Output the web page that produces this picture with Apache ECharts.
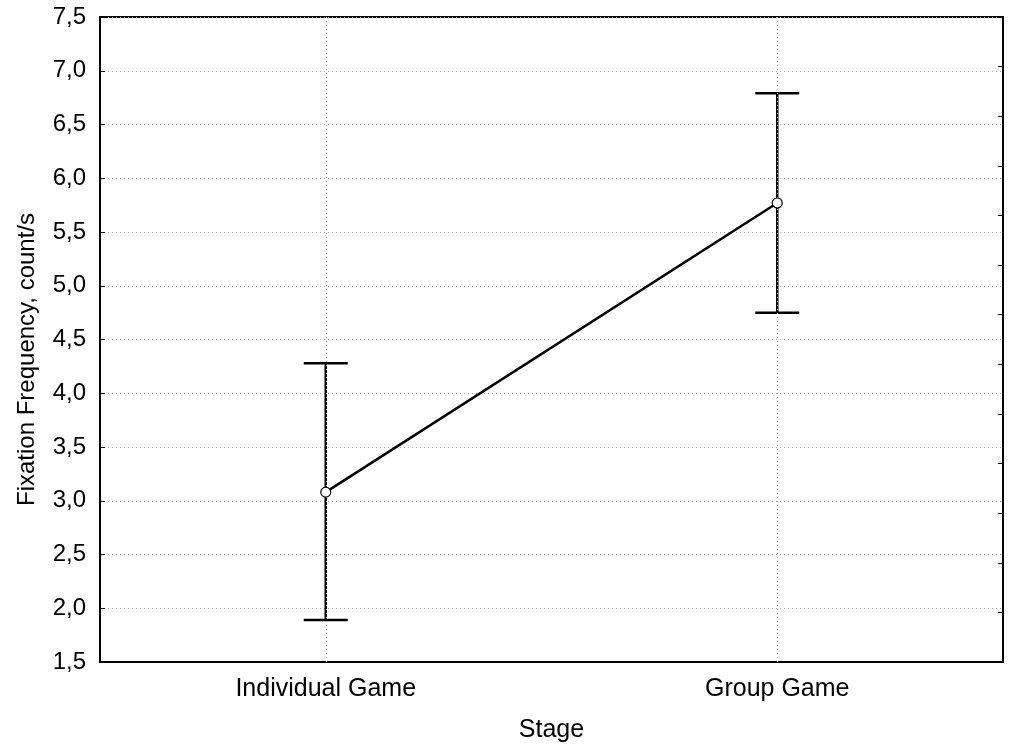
<!DOCTYPE html>
<html>
<head>
<meta charset="utf-8">
<script src="https://cdn.jsdelivr.net/npm/echarts@6/dist/echarts.min.js"></script>
<style>
  html, body { margin: 0; padding: 0; background: #fff; }
  #chart { width: 1011px; height: 748px; }
</style>
</head>
<body>
<div id="chart"></div>
<script>
// data
const stages = ["Individual Game", "Group Game"];
const means = [3.08, 5.77];
const lowerCI = [1.89, 4.75];
const upperCI = [4.28, 6.79];

const font = "Liberation Sans, Arial, sans-serif";
const fmt = v => v.toFixed(1).replace(".", ",");

const chart = echarts.init(document.getElementById("chart"));

const errData = stages.map((s, i) => [i, lowerCI[i], upperCI[i]]);

const option = {
  backgroundColor: "#fff",
  animation: false,
  grid: { left: 100, right: 8, top: 17, bottom: 86, show: true, borderColor: "#000", borderWidth: 2 },
  xAxis: {
    type: "category",
    data: stages,
    boundaryGap: true,
    name: "Stage",
    nameLocation: "middle",
    nameGap: 56,
    nameTextStyle: { fontFamily: font, fontSize: 25, color: "#000" },
    axisLine: { lineStyle: { color: "#000", width: 2 } },
    axisTick: { alignWithLabel: true, inside: true, length: 6, lineStyle: { color: "#000" } },
    axisLabel: { fontFamily: font, fontSize: 25, color: "#000", margin: 15 },
    splitLine: { show: false }
  },
  yAxis: [
    {
      type: "value",
      min: 1.5,
      max: 7.5,
      interval: 0.5,
      name: "Fixation Frequency, count/s",
      nameLocation: "middle",
      nameGap: 61,
      nameTextStyle: { fontFamily: font, fontSize: 24, color: "#000", padding: [0, 40, 0, 0] },
      axisLine: { show: true, lineStyle: { color: "#000", width: 2 } },
      axisTick: { show: true, inside: true, length: 5, lineStyle: { color: "#000" } },
      axisLabel: { fontFamily: font, fontSize: 24, color: "#000", margin: 14, formatter: fmt },
      splitLine: { show: true, lineStyle: { color: "#aaa", type: [1, 3], width: 1 } }
    },
    {
      type: "value",
      min: 0,
      max: 13,
      interval: 1,
      position: "right",
      axisLine: { show: true, lineStyle: { color: "#000", width: 2 } },
      axisTick: { show: true, inside: true, length: 5, lineStyle: { color: "#000" } },
      axisLabel: { show: false },
      splitLine: { show: false }
    }
  ],
  series: [
    {
      type: "custom",
      data: errData,
      z: 3,
      markLine: {
        silent: true,
        symbol: "none",
        label: { show: false },
        lineStyle: { color: "#aaa", type: [1, 3], width: 1 },
        data: [{ xAxis: 0 }, { xAxis: 1 }]
      },
      renderItem: function (params, api) {
        const x = api.value(0);
        const lo = api.coord([x, api.value(1)]);
        const hi = api.coord([x, api.value(2)]);
        const half = 22;
        const style = { stroke: "#000", lineWidth: 2.5 };
        return {
          type: "group",
          children: [
            { type: "line", shape: { x1: lo[0], y1: lo[1], x2: hi[0], y2: hi[1] }, style: style },
            { type: "line", shape: { x1: lo[0] - half, y1: lo[1], x2: lo[0] + half, y2: lo[1] }, style: style },
            { type: "line", shape: { x1: hi[0] - half, y1: hi[1], x2: hi[0] + half, y2: hi[1] }, style: style }
          ]
        };
      }
    },
    {
      type: "line",
      data: means,
      z: 5,
      symbol: "circle",
      symbolSize: 10,
      lineStyle: { color: "#000", width: 2.5 },
      itemStyle: { color: "#fff", borderColor: "#000", borderWidth: 1.2 }
    }
  ]
};

chart.setOption(option);
</script>
</body>
</html>
